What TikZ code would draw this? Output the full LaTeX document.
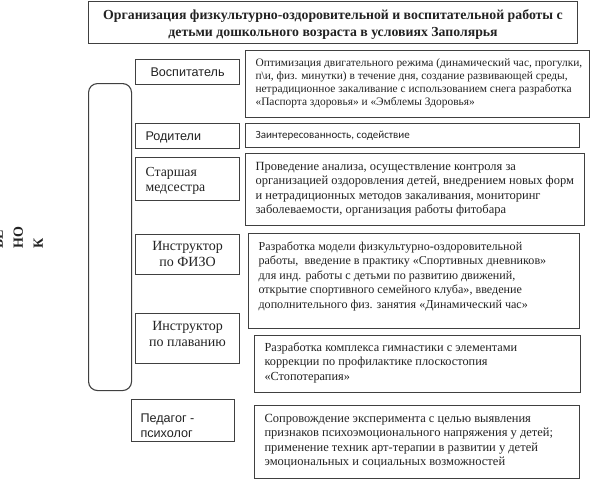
\documentclass[tikz,border=0pt]{standalone}
\usepackage{fontspec}
\setmainfont{Liberation Serif}
\newfontfamily\lsans{Liberation Sans}
\newfontfamily\carl{Carlito}
\definecolor{ln}{HTML}{404040}
\definecolor{tx}{HTML}{222222}
\newcommand{\inbox}[4]{\parbox[c][#1pt][t]{#2pt}{\vspace*{#3pt}#4}}
\tikzset{
  frame/.style={draw=ln, line width=1.1pt, anchor=north west, inner ysep=0pt, text=tx},
  descbox/.style={frame, inner xsep=10pt},
  bracketbox/.style={draw=ln, line width=1.1pt, rounded corners=9pt, anchor=north west, inner sep=0pt},
  sidelabel/.style={rotate=90, anchor=south west, inner sep=0pt, align=left, text=tx,
    font=\fontsize{14}{20}\selectfont\bfseries}
}
\begin{document}
\begin{tikzpicture}[x=1pt,y=-1pt]
\useasboundingbox (0,0) rectangle (591,479);
\clip (0,0) rectangle (591,479);

% title
\node[frame, inner xsep=0pt] (title) at (88,1) {\inbox{42}{489}{6.1}{\centering\fontsize{13.8}{17}\selectfont\bfseries
  \begin{tabular}{@{}c@{}}Организация физкультурно-оздоровительной и воспитательной работы с\\
  детьми дошкольного возраста в условиях Заполярья\end{tabular}}};

% bracket and side label
\node[bracketbox, minimum width=43pt, minimum height=307pt] (br) at (88,83) {};
\node[sidelabel] (reb) at (43,249) {БЕ\\НО\\К};

% role boxes
\node[frame, inner xsep=0pt] (vosp) at (135,59) {\inbox{25}{104}{6.1}{\centering\lsans\fontsize{12.6}{15}\selectfont
  \begin{tabular}{@{}c@{}}Воспитатель\end{tabular}}};
\node[frame, inner xsep=10pt] (rod) at (135,123) {\inbox{25}{84}{6.1}{\lsans\fontsize{12.6}{15}\selectfont
  \begin{tabular}{@{}l@{}}Родители\end{tabular}}};
\node[frame, inner xsep=10pt] (star) at (135,157) {\inbox{43}{84}{8.0}{\fontsize{13.8}{15}\selectfont
  \begin{tabular}{@{}l@{}}Старшая\\медсестра\end{tabular}}};
\node[frame, inner xsep=0pt] (fizo) at (135,234) {\inbox{40}{104}{5.2}{\centering\fontsize{14}{16}\selectfont
  \begin{tabular}{@{}c@{}}Инструктор\\по ФИЗО\end{tabular}}};
\node[frame, inner xsep=0pt] (plav) at (135,313) {\inbox{50}{104}{6.2}{\centering\fontsize{14}{16}\selectfont
  \begin{tabular}{@{}c@{}}Инструктор\\по плаванию\end{tabular}}};
\node[frame, inner xsep=9pt] (ped) at (131,399) {\inbox{42}{85}{12.1}{\lsans\fontsize{12.6}{15}\selectfont
  \begin{tabular}{@{}l@{}}Педагог -\\психолог\end{tabular}}};

% description boxes
\node[descbox] (d1) at (245,50) {\inbox{67}{324}{7.1}{\fontsize{11.4}{13}\selectfont
  \begin{tabular}{@{}l@{}}Оптимизация двигательного режима (динамический час, прогулки,\\
  п\textbackslash и, физ. минутки) в течение дня, создание развивающей среды,\\
  нетрадиционное закаливание с использованием снега разработка\\
  «Паспорта здоровья» и «Эмблемы Здоровья»\end{tabular}}};
\node[descbox] (d2) at (245,123) {\inbox{24}{314}{5.4}{\carl\fontsize{11}{13}\selectfont
  \begin{tabular}{@{}l@{}}Заинтересованность, содействие\end{tabular}}};
\node[descbox] (d3) at (245,153) {\inbox{72}{319}{6.3}{\fontsize{12.5}{14.5}\selectfont
  \begin{tabular}{@{}l@{}}Проведение анализа, осуществление контроля за\\
  организацией оздоровления детей, внедрением новых форм\\
  и нетрадиционных методов закаливания, мониторинг\\
  заболеваемости, организация работы фитобара\end{tabular}}};
\node[descbox] (d4) at (248,233) {\inbox{95}{311}{6.3}{\fontsize{12.1}{14.5}\selectfont
  \begin{tabular}{@{}l@{}}Разработка модели физкультурно-оздоровительной\\
  работы,\ \ введение в практику «Спортивных дневников»\\
  для инд. работы с детьми по развитию движений,\\
  открытие спортивного семейного клуба», введение\\
  дополнительного физ. занятия «Динамический час»\end{tabular}}};
\node[descbox] (d5) at (254,335) {\inbox{57}{306}{5.3}{\fontsize{12.3}{14.5}\selectfont
  \begin{tabular}{@{}l@{}}Разработка комплекса гимнастики с элементами\\
  коррекции по профилактике плоскостопия\\
  «Стопотерапия»\end{tabular}}};
\node[descbox] (d6) at (254,405) {\inbox{73}{305}{6.3}{\fontsize{12.5}{14.5}\selectfont
  \begin{tabular}{@{}l@{}}Сопровождение эксперимента с целью выявления\\
  признаков психоэмоционального напряжения у детей;\\
  применение техник арт-терапии в развитии у детей\\
  эмоциональных и социальных возможностей\end{tabular}}};
\end{tikzpicture}
\end{document}
